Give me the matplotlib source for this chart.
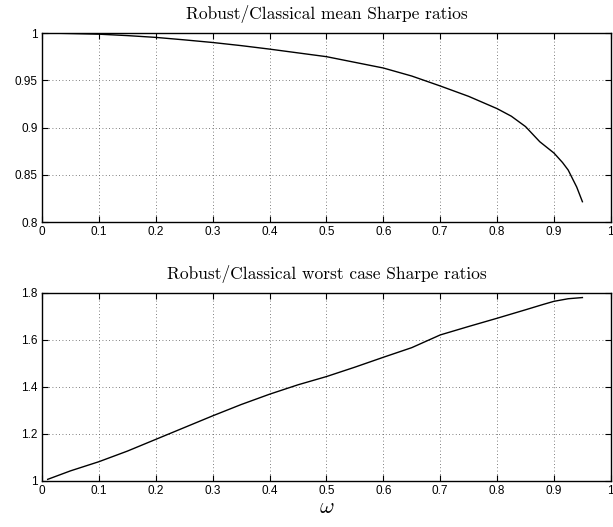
"""Robust vs classical Sharpe ratios as a function of omega (two stacked panels)."""

import matplotlib
matplotlib.use("Agg")
import matplotlib.pyplot as plt

plt.rcParams["mathtext.fontset"] = "cm"

omega = [0.01, 0.05, 0.1, 0.15, 0.2, 0.25, 0.3, 0.35, 0.4, 0.45, 0.5, 0.55, 0.6,
         0.65, 0.7, 0.75, 0.8, 0.825, 0.85, 0.875, 0.9, 0.915, 0.925, 0.94, 0.95]
mean_ratio = [1.0, 0.9995, 0.9988, 0.9973, 0.9954, 0.9928, 0.990, 0.9867, 0.983,
              0.979, 0.975, 0.969, 0.963, 0.9545, 0.944, 0.933, 0.920, 0.912,
              0.901, 0.885, 0.873, 0.863, 0.855, 0.837, 0.8215]

omega_w = [0.01, 0.05, 0.1, 0.15, 0.2, 0.25, 0.3, 0.35, 0.4, 0.45, 0.5, 0.55, 0.6,
           0.65, 0.7, 0.75, 0.8, 0.85, 0.88, 0.9, 0.925, 0.95]
worst_ratio = [1.007, 1.043, 1.082, 1.127, 1.177, 1.227, 1.277, 1.325, 1.369,
               1.409, 1.444, 1.484, 1.526, 1.567, 1.621, 1.657, 1.692, 1.728,
               1.75, 1.764, 1.775, 1.78]

TITLE_FONT = dict(family="cmr10", size=12.5)
TICK_FONT = "Liberation Sans"

fig = plt.figure(figsize=(6.13, 5.27), dpi=100)
ax1 = fig.add_axes([0.0685, 0.5787, 0.928, 0.3586])
ax2 = fig.add_axes([0.0685, 0.0873, 0.928, 0.357])

panels = [
    (ax1, omega, mean_ratio, (0.8, 1.0), [0.8, 0.85, 0.9, 0.95, 1.0],
     ["0.8", "0.85", "0.9", "0.95", "1"], "Robust/Classical mean Sharpe ratios"),
    (ax2, omega_w, worst_ratio, (1.0, 1.8), [1.0, 1.2, 1.4, 1.6, 1.8],
     ["1", "1.2", "1.4", "1.6", "1.8"], "Robust/Classical worst case Sharpe ratios"),
]
xticks = [i / 10 for i in range(11)]
xlabels = ["0"] + [f"{t:.1f}" for t in xticks[1:-1]] + ["1"]

for ax, x, y, ylim, yt, ylab, title in panels:
    ax.plot(x, y, color="black", lw=1.0)
    ax.set_xlim(0, 1); ax.set_ylim(*ylim)
    ax.set_xticks(xticks); ax.set_xticklabels(xlabels, fontfamily=TICK_FONT, fontsize=8.5)
    ax.set_yticks(yt); ax.set_yticklabels(ylab, fontfamily=TICK_FONT, fontsize=8.5)
    ax.tick_params(direction="in", length=4, width=0.8, top=True, right=True, pad=3)
    ax.grid(True, linestyle=(0, (1, 3)), color="#555555", lw=0.6)
    for s in ax.spines.values():
        s.set_linewidth(1.0)
    ax.set_title(title, fontdict=TITLE_FONT, pad=10)

ax2.set_xlabel(r"$\omega$", fontsize=16, labelpad=0)

fig.savefig("out.png", dpi=100)
